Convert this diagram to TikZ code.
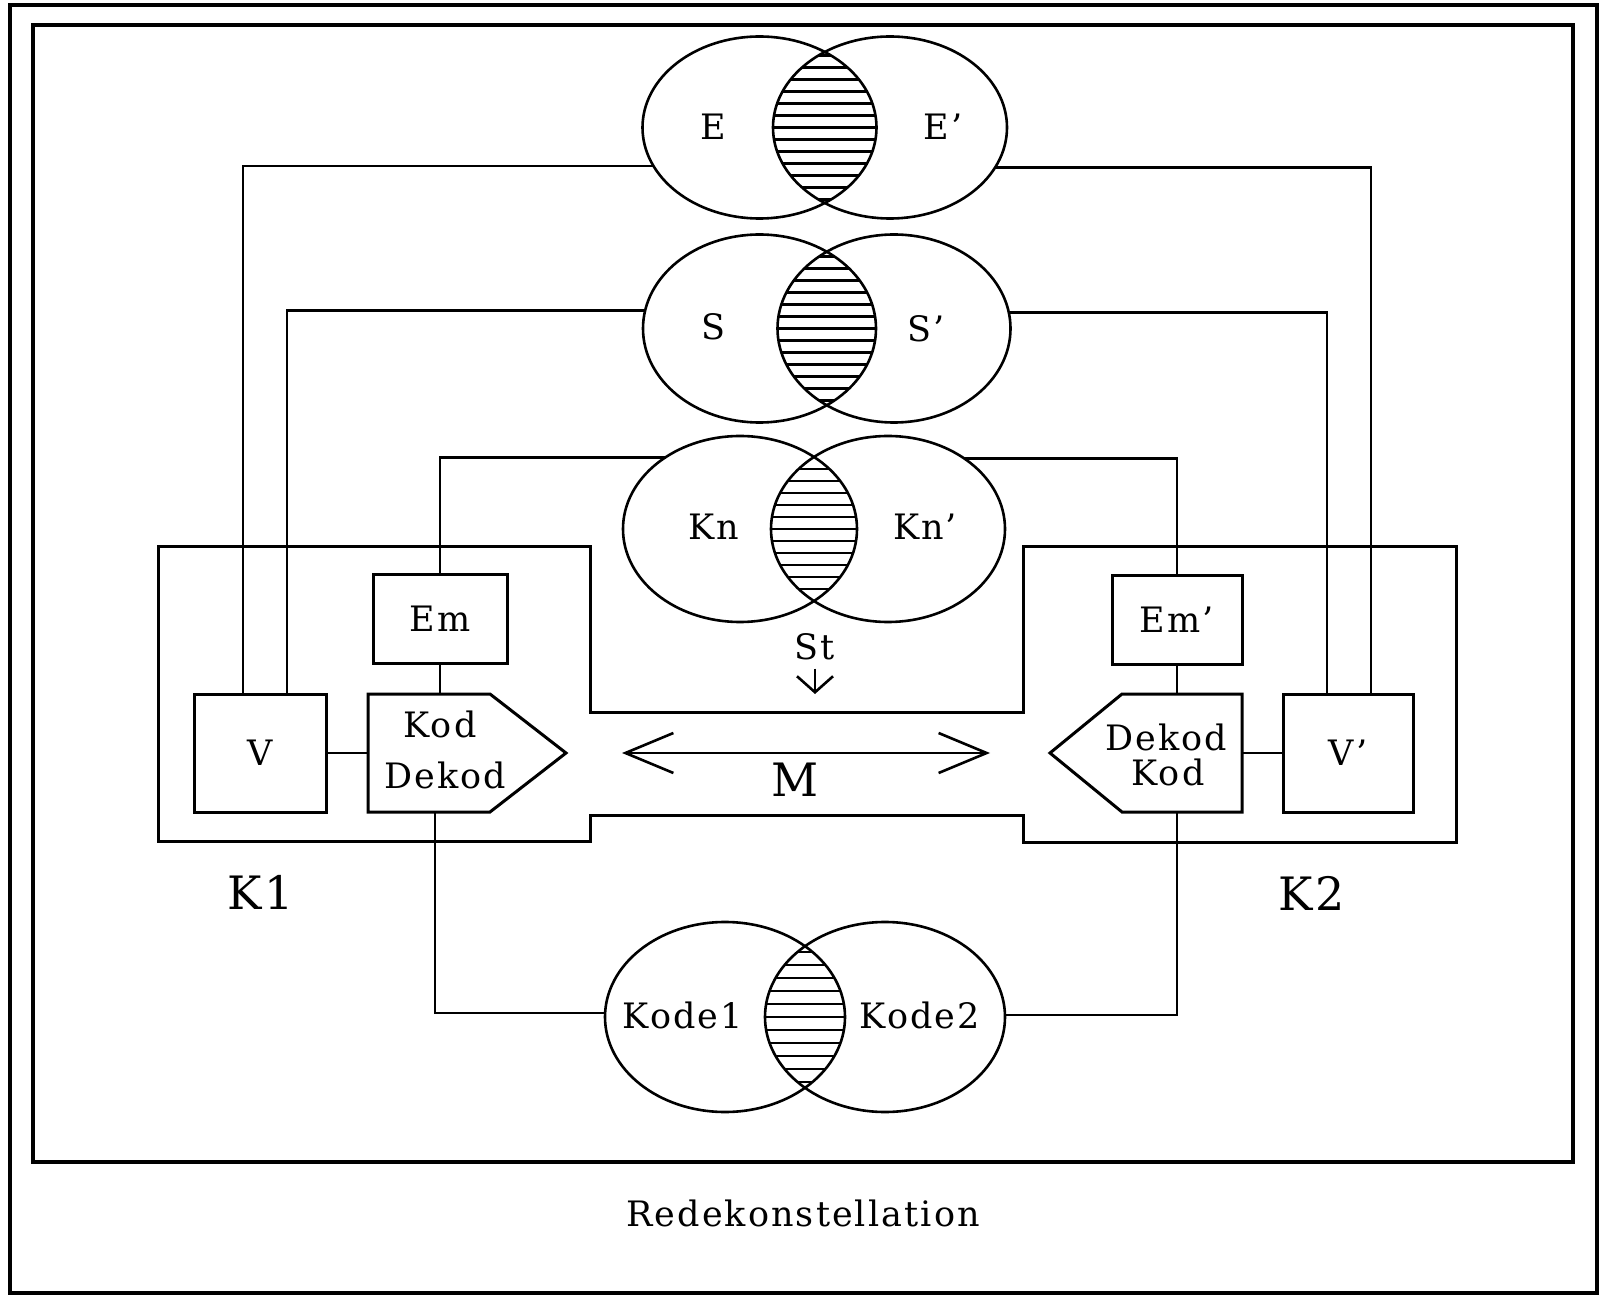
\documentclass[tikz,border=0pt]{standalone}
\usepackage{fontspec}
\setmainfont{DejaVu Serif}[LetterSpace=6]
\usetikzlibrary{shapes.geometric,arrows.meta}
\newcommand{\lblfont}{\fontsize{17.5}{21}\selectfont}
\newcommand{\bigfont}{\fontsize{23}{27}\selectfont}
\begin{document}
\begin{tikzpicture}[x=0.5pt,y=-0.5pt,
  frame/.style={line width=1.7pt},
  outline/.style={line width=1.5pt},
  wire/.style={line width=1.3pt},
  venn/.style={ellipse,draw,line width=1.3pt,inner sep=0pt,outer sep=0pt},
  hatch/.style={line width=1.1pt},
  box/.style={rectangle,draw,line width=1.5pt,inner sep=0pt,outer sep=0pt,font=\lblfont},
  body/.style={rectangle,inner sep=0pt,outer sep=0pt},
  lbl/.style={inner sep=0pt,font=\lblfont},
  big/.style={inner sep=0pt,font=\bigfont},
  both barbs/.style={{Straight Barb[length=24pt,width=20pt]}-{Straight Barb[length=24pt,width=20pt]}},
]
\useasboundingbox (0,0) rectangle (1606,1304);

% page frames
\draw[frame] (10,5) rectangle (1597,1293);
\draw[frame] (33,25) rectangle (1573,1162);

% hatched overlaps of the four pairs of fields
\begin{scope}
  \clip (759.5,127.5) ellipse [x radius=58.5pt, y radius=45.5pt];
  \clip (890,127.5) ellipse [x radius=58.5pt, y radius=45.5pt];
  \foreach \k in {-8,...,8} \draw[hatch] (740,127.5+\k*12) -- (910,127.5+\k*12);
\end{scope}
\begin{scope}
  \clip (759.5,328.5) ellipse [x radius=58.25pt, y radius=47pt];
  \clip (894,328.5) ellipse [x radius=58.25pt, y radius=47pt];
  \foreach \k in {-8,...,8} \draw[hatch] (740,328.5+\k*12) -- (910,328.5+\k*12);
\end{scope}
\begin{scope}
  \clip (740,529) ellipse [x radius=58.5pt, y radius=46.5pt];
  \clip (888,529) ellipse [x radius=58.5pt, y radius=46.5pt];
  \foreach \k in {-8,...,8} \draw[hatch] (720,529+\k*12) -- (910,529+\k*12);
\end{scope}
\begin{scope}
  \clip (725,1017) ellipse [x radius=60pt, y radius=47.5pt];
  \clip (885,1017) ellipse [x radius=60pt, y radius=47.5pt];
  \foreach \k in {-8,...,8} \draw[hatch] (700,1017+\k*13) -- (910,1017+\k*13);
\end{scope}

% the fields
\node[venn,minimum width=117pt,minimum height=91pt] (E)  at (759.5,127.5) {};
\node[venn,minimum width=117pt,minimum height=91pt] (Er) at (890,127.5) {};
\node[venn,minimum width=116.5pt,minimum height=94pt] (S)  at (759.5,328.5) {};
\node[venn,minimum width=116.5pt,minimum height=94pt] (Sr) at (894,328.5) {};
\node[venn,minimum width=117pt,minimum height=93pt] (Kn)  at (740,529) {};
\node[venn,minimum width=117pt,minimum height=93pt] (Knr) at (888,529) {};
\node[venn,minimum width=120pt,minimum height=95pt] (Kc1) at (725,1017) {};
\node[venn,minimum width=120pt,minimum height=95pt] (Kc2) at (885,1017) {};

\node[lbl] (tE)  at (713,127) {E};
\node[lbl] (tEr) at (943,127) {E’};
\node[lbl] (tS)  at (713,327) {S};
\node[lbl] (tSr) at (926,329) {S’};
\node[lbl] (tKn)  at (714,527) {Kn};
\node[lbl] (tKnr) at (925,527) {Kn’};
\node[lbl] (tKc1) at (683,1015) {Kode1};
\node[lbl] (tKc2) at (920,1015) {Kode2};

% the two speakers' frames joined by the channel
\draw[outline] (590,712) -- (590,547) -- (158,547) -- (158,841) -- (590,841)
  -- (590,815) -- (1023,815) -- (1023,842) -- (1456,842) -- (1456,547)
  -- (1023,547) -- (1023,712) -- cycle;

% boxes
\node[box,minimum width=66pt,minimum height=59pt] (V)   at (260,753) {V};
\node[box,minimum width=65pt,minimum height=59pt] (Vr)  at (1348,753) {V’};
\node[box,minimum width=67pt,minimum height=44pt] (em)  at (440,619) {Em};
\node[box,minimum width=65pt,minimum height=44pt] (emr) at (1177,620) {Em’};

% coder / decoder pentagons
\node[body,minimum width=61pt,minimum height=59pt] (kod) at (429,753) {};
\coordinate (kodtip) at (566,753);
\draw[outline] (kod.north west) -- (kod.north east) -- (kodtip)
  -- (kod.south east) -- (kod.south west) -- cycle;
\node[lbl] (kodA) at (440,724) {Kod};
\node[lbl] (kodB) at (445,775) {Dekod};

\node[body,minimum width=60pt,minimum height=59pt] (dek) at (1182,753) {};
\coordinate (dektip) at (1050,753);
\draw[outline] (dek.north east) -- (dek.north west) -- (dektip)
  -- (dek.south west) -- (dek.south east) -- cycle;
\node[lbl] (dekA) at (1166,737) {Dekod};
\node[lbl] (dekB) at (1168,772) {Kod};

% connectors
\draw[wire] (E.200.55) -| ([xshift=-8.5pt]V.north);
\draw[wire] (S.171.8) -| ([xshift=13.5pt]V.north);
\draw[wire] (Er.339.45) -| ([xshift=11.5pt]Vr.north);
\draw[wire] (Sr.8.2) -| ([xshift=-10.5pt]Vr.north);
\draw[wire] (Kn.136.8) -| (em.north);
\draw[wire] (Knr.43.2) -| (emr.north);
\draw[wire] (em.south) -- (em.south |- kod.north);
\draw[wire] (emr.south) -- (emr.south |- dek.north);
\draw[wire] (V.east) -- (kod.west);
\draw[wire] (dek.east) -- (Vr.west);
\draw[wire] ([xshift=3pt]kod.south) |- (Kc1.178.1);
\draw[wire] ([xshift=-2.5pt]dek.south) |- (Kc2.1.9);

% message in the channel
\node[lbl,inner sep=4pt] (St) at (815,647) {St};
\coordinate (sttip) at (815,694);
\draw[wire,-{Straight Barb[length=8pt,width=18pt]}] (St.south) -- (sttip);
\coordinate (ml) at (622,753);
\coordinate (mr) at (990,753);
\draw[wire,both barbs] (ml) -- (mr);
\node[big] (M) at (795,780) {M};

\node[big] (K1) at (261,892) {K1};
\node[big] (K2) at (1312,893) {K2};

\node[lbl] (cap) at (803,1213) {Redekonstellation};
\end{tikzpicture}
\end{document}
